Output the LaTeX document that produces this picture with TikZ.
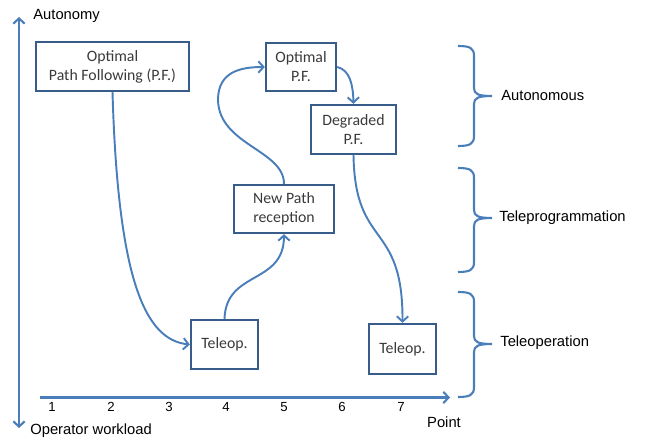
\documentclass[tikz,border=0pt]{standalone}
\usepackage{fontspec}
\setmainfont{Liberation Sans}
\newfontfamily\boxfont{Carlito}
\usepackage{tikz}
\usetikzlibrary{positioning,arrows.meta}
\usepackage{xcolor}
\definecolor{lineblue}{HTML}{4A7EBB}
\definecolor{boxblue}{HTML}{385D8A}
\definecolor{boxtext}{HTML}{3A3A3A}

\begin{document}
\begin{tikzpicture}[x=0.02cm, y=-0.02cm,
  >={Straight Barb[length=3pt, width=6.5pt]},
  box/.style={draw=boxblue, line width=1.3pt, inner sep=0pt, align=center,
    font=\boxfont\fontsize{9}{10.8}\selectfont, text=boxtext},
  flow/.style={->, lineblue, line width=1.1pt},
  lbl/.style={font=\fontsize{8.4}{10}\selectfont, inner sep=0pt},
  tick/.style={font=\fontsize{7.5}{9}\selectfont, inner sep=0pt}]
\useasboundingbox (0,0) rectangle (646,438);
% axes
\coordinate (ytop) at (19,17);
\coordinate (ybot) at (19,428);
\coordinate (xleft) at (40,397.5);
\coordinate (xright) at (450,397.5);
\draw[<->, lineblue, line width=1.2pt] (ytop) -- (ybot);
\draw[->, lineblue, line width=1.2pt] (xleft) -- (xright);
\node[lbl, anchor=west] (autonomy) at (33,16) {Autonomy};
\node[lbl, anchor=west] (workload) at (30,431) {Operator workload};
\node[lbl] (point) at (444,422) {Point};
\foreach \n/\x in {1/52,2/111,3/169,4/226,5/284,6/342,7/401}
  \node[tick] (t\n) at (\x,407) {\n};
% states
\node[box, minimum width=3.06cm, minimum height=0.98cm] (opf) at (112.5,66.5) {Optimal\\Path Following (P.F.)};
\node[box, minimum width=1.4cm, minimum height=0.96cm] (opf2) at (301,67) {Optimal\\P.F.};
\node[box, minimum width=1.7cm, minimum height=0.98cm] (dpf) at (353.5,129.5) {Degraded\\P.F.};
\node[box, minimum width=2.0cm, minimum height=0.96cm] (npr) at (284,209) {New Path\\reception};
\node[box, minimum width=1.34cm, minimum height=0.98cm] (tel1) at (224.5,344.5) {Teleop.};
\node[box, minimum width=1.34cm, minimum height=1.0cm] (tel2) at (402.5,349) {Teleop.};
% transitions
\draw[flow] (opf.south) .. controls (118,280) and (145,340) .. (tel1.west);
\draw[flow] (tel1.north) .. controls (226,270) and (284,285) .. (npr.south);
\draw[flow] (npr.north) .. controls (284,150) and (219,145) .. (218,100)
  .. controls (218,72) and (240,67) .. (opf2.west);
\draw[flow] (opf2.east) .. controls (350,70) and (353,85) .. (dpf.north);
\draw[flow] (dpf.south) .. controls (355,250) and (403,220) .. (tel2.north);
% braces
\foreach \t/\m/\b in {46/96/146, 168/218/272, 292/344/397}
  \draw[lineblue, line width=1.2pt] (458,\t) .. controls (470,\t) and (474,\t+2) .. (474,\t+10)
    -- (474,\m-8) .. controls (474,\m-2) and (478,\m) .. (492,\m)
    .. controls (478,\m) and (474,\m+2) .. (474,\m+8)
    -- (474,\b-10) .. controls (474,\b-2) and (470,\b) .. (458,\b);
\node[lbl, anchor=west] (auto) at (501,96) {Autonomous};
\node[lbl, anchor=west] (tprog) at (499,218) {Teleprogrammation};
\node[lbl, anchor=west] (toper) at (500,343) {Teleoperation};
\end{tikzpicture}
\end{document}
